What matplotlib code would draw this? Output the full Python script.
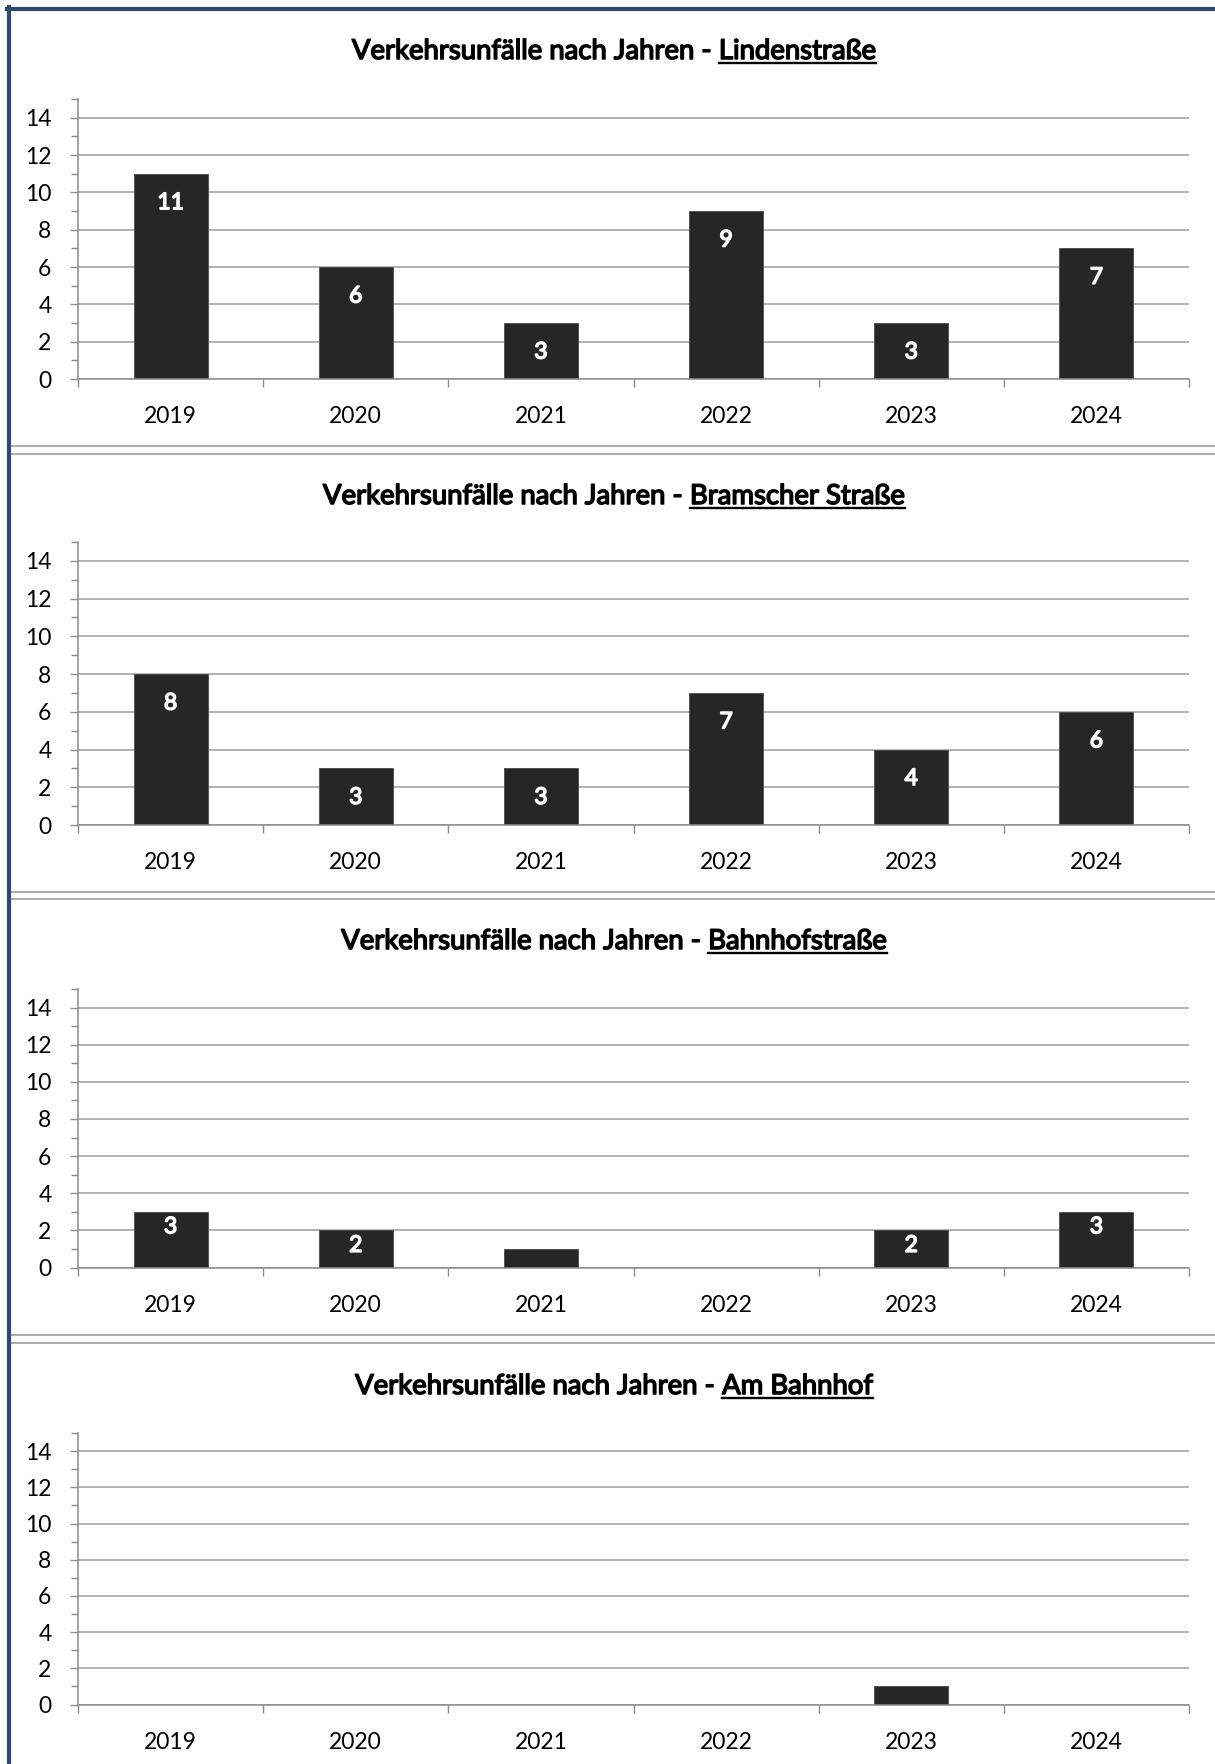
import matplotlib
matplotlib.use("Agg")
import matplotlib.pyplot as plt
from matplotlib import patheffects as pe
from matplotlib.lines import Line2D
from matplotlib.ticker import FixedLocator, NullFormatter

# ---------------------------------------------------------------
# data
# ---------------------------------------------------------------
years = ["2019", "2020", "2021", "2022", "2023", "2024"]
streets = ["Lindenstraße", "Bramscher Straße", "Bahnhofstraße", "Am Bahnhof"]
lindenstrasse = [11, 6, 3, 9, 3, 7]
bramscher_strasse = [8, 3, 3, 7, 4, 6]
bahnhofstrasse = [3, 2, 1, 0, 2, 3]
am_bahnhof = [0, 0, 0, 0, 1, 0]
series = [lindenstrasse, bramscher_strasse, bahnhofstrasse, am_bahnhof]
PREFIX = "Verkehrsunfälle nach Jahren - "

# ---------------------------------------------------------------
# layout (pixels of the 1215x1764 canvas)
# ---------------------------------------------------------------
W, H = 1215, 1764
AX_LEFT, AX_RIGHT = 78, 1189
zero_px = [379, 825, 1267.5, 1704.5]
top_px = [99, 542, 989, 1433]
title_base_px = [59, 504, 949, 1394]
label_offset_px = [29, 29, 15, 15]
separators_px = [(446, 454), (892, 899), (1335, 1343)]
TITLE_CX = 614

FONT = "Lato"
BAR_COLOR = "#262626"
GRID_COLOR = "#9e9e9e"
AXIS_COLOR = "#8c8c8c"
BORDER_COLOR = "#2e4a68"

plt.rcParams["font.family"] = [FONT, "DejaVu Sans"]


def fx(x):
    return x / W


def fy(y):
    return 1 - y / H


def bold(color, lw=1.0):
    # the installed Lato has no bold face, so thicken the regular one
    return [pe.withStroke(linewidth=lw, foreground=color)]


def draw_panel(fig, values, zero, top, lab_off):
    ax = fig.add_axes([fx(AX_LEFT), fy(zero), (AX_RIGHT - AX_LEFT) / W, (zero - top) / H])
    x = list(range(len(years)))
    ax.bar(x, values, width=0.4, color=BAR_COLOR, edgecolor="#4a4a4a", linewidth=0.6, zorder=3)
    ax.set_xlim(-0.5, len(years) - 0.5)
    ax.set_ylim(0, 15)

    # y axis: gridlines on even values, minor ticks on odd ones
    ax.yaxis.set_major_locator(FixedLocator(range(0, 15, 2)))
    ax.yaxis.set_minor_locator(FixedLocator(range(1, 16, 2)))
    ax.tick_params(axis="y", which="major", length=6, width=1, color=AXIS_COLOR,
                   labelsize=16.5, pad=13, labelcolor="black")
    ax.tick_params(axis="y", which="minor", length=5, width=1, color=AXIS_COLOR)
    ax.grid(axis="y", which="major", color=GRID_COLOR, linewidth=1.1, zorder=0)

    # x axis: ticks between categories, labels in the middle
    ax.xaxis.set_major_locator(FixedLocator([i - 0.5 for i in range(len(years) + 1)]))
    ax.xaxis.set_major_formatter(NullFormatter())
    ax.xaxis.set_minor_locator(FixedLocator(x))
    ax.set_xticklabels(years, minor=True)
    ax.tick_params(axis="x", which="major", length=6, width=1, color=AXIS_COLOR)
    ax.tick_params(axis="x", which="minor", length=0, labelsize=16.5, pad=19.5, labelcolor="black")

    for side in ["top", "right"]:
        ax.spines[side].set_visible(False)
    for side in ["left", "bottom"]:
        ax.spines[side].set_color(AXIS_COLOR)
        ax.spines[side].set_linewidth(1.1)
        ax.spines[side].set_zorder(4)

    for xi, v in zip(x, values):
        if v >= 2:
            ax.annotate(str(v), (xi, v), xytext=(0, -lab_off * 0.72), textcoords="offset points",
                        ha="center", va="center", color="white", fontsize=16.5,
                        zorder=5, path_effects=bold("white", 1.1))
    return ax


def draw_title(fig, renderer, base, street):
    kw = dict(fontsize=19.8, va="baseline", color="black")
    full = fig.text(0, 0, PREFIX + street, **kw)
    only = fig.text(0, 0, street, **kw)
    w_full = full.get_window_extent(renderer).width
    w_st = only.get_window_extent(renderer).width
    full.remove()
    only.remove()
    x0 = TITLE_CX - w_full / 2
    xs = x0 + w_full - w_st
    fig.text(fx(x0), fy(base), PREFIX, ha="left", path_effects=bold("black", 1.1), **kw)
    fig.text(fx(xs), fy(base), street, ha="left", path_effects=bold("black", 1.1), **kw)
    fig.add_artist(Line2D([fx(xs), fx(x0 + w_full)], [fy(base + 4), fy(base + 4)],
                          transform=fig.transFigure, color="black", linewidth=1.7))


fig = plt.figure(figsize=(W / 100, H / 100), dpi=100)
fig.patch.set_facecolor("white")
renderer = fig.canvas.get_renderer()

for vals, zero, top, off in zip(series, zero_px, top_px, label_offset_px):
    draw_panel(fig, vals, zero, top, off)

for base, street in zip(title_base_px, streets):
    draw_title(fig, renderer, base, street)

# double separator lines between the stacked charts
for y1, y2 in separators_px:
    for y in (y1, y2):
        fig.add_artist(Line2D([fx(11), 1], [fy(y), fy(y)], transform=fig.transFigure,
                              color="#a6a6a6", linewidth=1.3))

# outer frame (left and top edges)
fig.add_artist(Line2D([fx(9), fx(9)], [fy(7), 0], transform=fig.transFigure,
                      color=BORDER_COLOR, linewidth=3))
fig.add_artist(Line2D([fx(7), 1], [fy(8.5), fy(8.5)], transform=fig.transFigure,
                      color=BORDER_COLOR, linewidth=3))

fig.savefig("out.png", dpi=100, facecolor="white")
